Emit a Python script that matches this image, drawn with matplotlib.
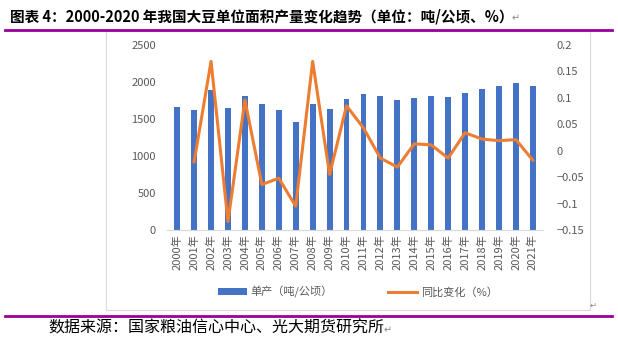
import numpy as np
import matplotlib.pyplot as plt
from matplotlib.patches import Rectangle
from matplotlib.lines import Line2D

plt.rcParams['font.family'] = ['Noto Sans CJK SC', 'DejaVu Sans']
plt.rcParams['axes.unicode_minus'] = True

years = [str(y) + '年' for y in range(2000, 2022)]
yield_t = [1658, 1621, 1893, 1653, 1815, 1705, 1621, 1454, 1703, 1630, 1771,
           1838, 1814, 1757, 1784, 1811, 1797, 1856, 1905, 1946, 1986, 1946]
yoy = [np.nan, -0.021, 0.169, -0.134, 0.096, -0.064, -0.052, -0.105, 0.169, -0.045, 0.085,
       0.043, -0.014, -0.031, 0.013, 0.011, -0.014, 0.034, 0.022, 0.019, 0.021, -0.018]

W, H = 618, 345
fig = plt.figure(figsize=(W / 100, H / 100), dpi=100)

gray = '#595959'
blue = '#4472c4'
orange = '#ed7d31'
purple = '#990099'

# title and rules
fig.text(10 / W, 1 - 17 / H, '图表 4：2000-2020 年我国大豆单位面积产量变化趋势（单位：吨/公顷、%）',
         fontsize=10.5, fontweight='bold', va='center', ha='left')
fig.text(512 / W, 1 - 18 / H, '↵', fontsize=7, color='#888888', va='center',
         family=['DejaVu Sans'])
fig.add_artist(Line2D([5 / W, 612 / W], [1 - 30 / H] * 2, color=purple, lw=2))
fig.add_artist(Line2D([5 / W, 612 / W], [1 - 316 / H] * 2, color=purple, lw=2))
fig.add_artist(Rectangle((106 / W, 1 - 310 / H), 484 / W, 279 / H, fill=False,
                         edgecolor='#d9d9d9', lw=0.8, transform=fig.transFigure))
fig.text(48 / W, 1 - 328 / H, '数据来源：国家粮油信心中心、光大期货研究所',
         fontsize=11.5, va='center', ha='left')
fig.text(384 / W, 1 - 330 / H, '↵', fontsize=7, color='#888888', va='center',
         family=['DejaVu Sans'])
fig.text(590 / W, 1 - 305 / H, '↵', fontsize=6, color='#888888', va='center',
         family=['DejaVu Sans'])

ax = fig.add_axes([167 / W, 1 - 230 / H, 376 / W, 185 / H])
x = np.arange(len(years))
bars = ax.bar(x, yield_t, width=0.35, color=blue, zorder=2)
ax.set_xlim(-0.6, len(years) - 0.4)
ax.set_ylim(0, 2500)
ax.set_yticks(np.arange(0, 2501, 500))
ax.set_xticks(x)
ax.set_xticklabels(years, rotation=90, fontsize=8, color=gray)
for s in ['top', 'right', 'left']:
    ax.spines[s].set_visible(False)
ax.spines['bottom'].set_color('#d9d9d9')
ax.tick_params(axis='y', length=0, labelsize=8, labelcolor=gray, pad=8)
ax.tick_params(axis='x', length=0, pad=3)

ax2 = ax.twinx()
line, = ax2.plot(x, yoy, color=orange, lw=2.2, zorder=3)
ax2.set_ylim(-0.15, 0.2)
ax2.set_yticks([-0.15, -0.1, -0.05, 0, 0.05, 0.1, 0.15, 0.2])
ax2.set_yticklabels(['−0.15', '−0.1', '−0.05', '0', '0.05', '0.1', '0.15', '0.2'])
for s in ['top', 'right', 'left', 'bottom']:
    ax2.spines[s].set_visible(False)
ax2.tick_params(axis='y', length=0, labelsize=8, labelcolor=gray, pad=10)

fig.legend([bars, line], ['单产（吨/公顷）', '同比变化（%）'], ncol=2,
           loc='center', bbox_to_anchor=(358 / W, 1 - 292 / H), frameon=False,
           fontsize=8, labelcolor=gray, handlelength=2.6, handleheight=0.6,
           columnspacing=5, handletextpad=0.3)

fig.savefig('out.png', dpi=100)
